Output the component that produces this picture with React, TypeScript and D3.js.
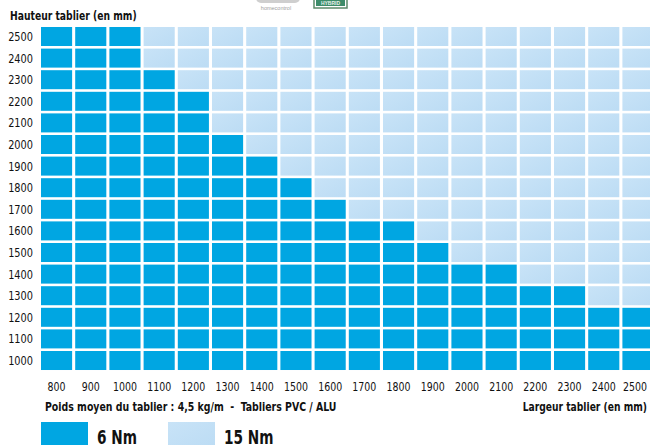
import React from "react";
import * as d3 from "d3";

const widths = [800, 900, 1000, 1100, 1200, 1300, 1400, 1500, 1600, 1700, 1800, 1900, 2000, 2100, 2200, 2300, 2400, 2500];
const heights = [2500, 2400, 2300, 2200, 2100, 2000, 1900, 1800, 1700, 1600, 1500, 1400, 1300, 1200, 1100, 1000];
// max height (mm) achievable with the 6 Nm motor for each width
const max6Nm = [2500, 2500, 2500, 2300, 2200, 2000, 1900, 1800, 1700, 1600, 1600, 1500, 1400, 1400, 1300, 1300, 1200, 1200];
const legendLabels = ["6 Nm", "15 Nm"];

const DARK = "#00a6e2";
const FONT = "'DejaVu Sans Condensed', 'DejaVu Sans', sans-serif";

function T({ x, y, sx, size, bold, anchor, children }: { x: number; y: number; sx: number; size: number; bold?: boolean; anchor?: string; children: React.ReactNode }) {
  return (
    <text
      transform={`translate(${x},${y}) scale(${sx},1)`}
      fontSize={size}
      fontWeight={bold ? "bold" : "normal"}
      textAnchor={anchor || "start"}
      fontFamily={FONT}
      fill="#111"
      style={{ whiteSpace: "pre" }}
    >
      {children}
    </text>
  );
}

export default function App() {
  const xp = 0.09;
  const yp = 0.12;
  const x = d3.scaleBand<number>().domain(widths).range([41, 41 + 34.2 * (18 - xp)]).paddingInner(xp).paddingOuter(0);
  const y = d3.scaleBand<number>().domain(heights).range([27, 27 + 21.6 * (16 - yp)]).paddingInner(yp).paddingOuter(0);

  const cells: { w: number; h: number; dark: boolean }[] = [];
  widths.forEach((w, i) => {
    heights.forEach((h) => {
      cells.push({ w, h, dark: h <= max6Nm[i] });
    });
  });

  return (
    <svg width={650} height={445} style={{ position: "absolute", left: 0, top: 0, background: "#fff" }}>
      <defs>
        <linearGradient id="lg" x1="0" y1="0" x2="1" y2="1">
          <stop offset="0" stopColor="#c8e3f7" />
          <stop offset="1" stopColor="#bcdcf4" />
        </linearGradient>
      </defs>
      {/* faint logos at top */}
      <rect x={256} y={-8} width={44} height={11} rx={5} fill="#cfcfcf" />
      <text x={276} y={10} fontSize={5.5} fill="#a0a0a0" textAnchor="middle" fontFamily="Arial, sans-serif">homecontrol</text>
      <rect x={314} y={-3} width={33} height={11} fill="#fff" stroke="#5c8a6a" strokeWidth={1.5} />
      <rect x={316} y={-1} width={29} height={7} fill="#3d8c6a" />
      <text x={330.5} y={5} fontSize={5} fill="#e6f2ea" textAnchor="middle" fontFamily="Arial, sans-serif" fontWeight="bold">HYBRID</text>

      <T x={10} y={20} sx={0.82} size={12.5} bold>Hauteur tablier (en mm)</T>

      {cells.map((c) => (
        <rect key={`${c.w}-${c.h}`} x={x(c.w)} y={y(c.h)} width={x.bandwidth()} height={y.bandwidth()} fill={c.dark ? DARK : "url(#lg)"} />
      ))}

      {heights.map((h) => (
        <T key={h} x={33} y={(y(h) as number) + y.bandwidth() / 2 + 4.5} sx={0.87} size={12.5} anchor="end">{String(h)}</T>
      ))}
      {widths.map((w, i) => (
        <T key={w} x={(x(w) as number) + x.bandwidth() / 2 - (i === widths.length - 1 ? 3 : 0)} y={391} sx={0.84} size={12.5} anchor="middle">{String(w)}</T>
      ))}

      <T x={45} y={411} sx={0.87} size={12} bold>Poids moyen du tablier : 4,5 kg/m  -  Tabliers PVC / ALU</T>
      <T x={647} y={411} sx={0.85} size={12} bold anchor="end">Largeur tablier (en mm)</T>

      <rect x={41} y={422} width={47} height={25} fill={DARK} />
      <T x={97} y={444} sx={0.8} size={19} bold>{legendLabels[0]}</T>
      <rect x={168} y={422} width={47} height={25} fill="url(#lg)" />
      <T x={224} y={444} sx={0.8} size={19} bold>{legendLabels[1]}</T>
    </svg>
  );
}
